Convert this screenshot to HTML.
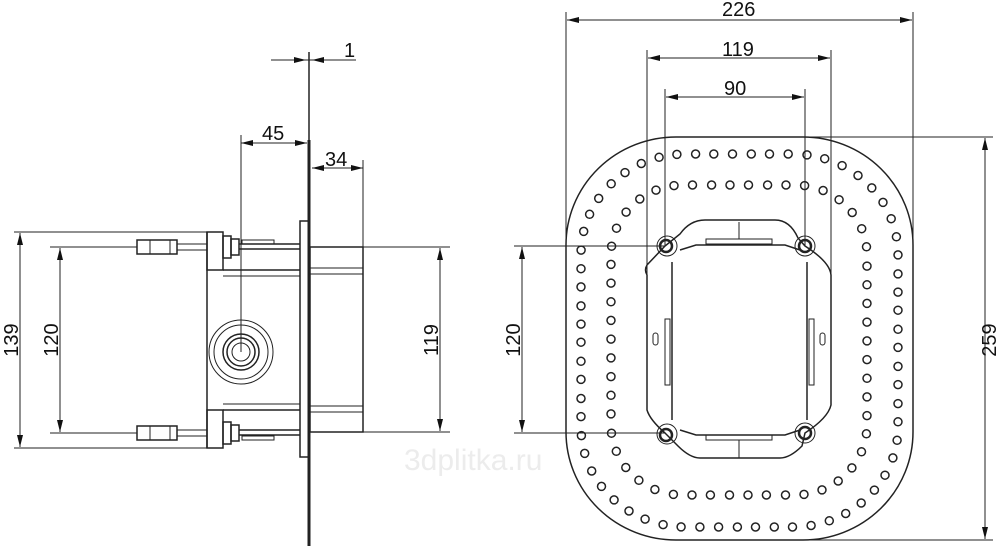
<!DOCTYPE html>
<html><head><meta charset="utf-8"><style>
html,body{margin:0;padding:0;background:#fff;width:1000px;height:546px;overflow:hidden}
svg{display:block}
text{font-family:"Liberation Sans",sans-serif;font-size:20px;fill:#111}
</style></head><body>
<svg id="s" width="1000" height="546" viewBox="0 0 1000 546" xmlns="http://www.w3.org/2000/svg">
<defs>
<marker id="a" viewBox="0 0 12 6" refX="12" refY="3" markerWidth="12" markerHeight="6" markerUnits="userSpaceOnUse" orient="auto-start-reverse"><path d="M0,0 L12,3 L0,6 z" fill="#111"/></marker>
</defs>
<g stroke="#222" stroke-width="1" fill="none">
<line x1="271" y1="60" x2="356" y2="60"/>
<line x1="285" y1="60" x2="306" y2="60" marker-end="url(#a)"/>
<line x1="335" y1="60" x2="312" y2="60" marker-end="url(#a)"/>
<line x1="309" y1="52" x2="309" y2="140" stroke-width="1.5"/>
<line x1="241" y1="135" x2="241" y2="352"/>
<line x1="241" y1="143" x2="307" y2="143" marker-start="url(#a)" marker-end="url(#a)"/>
<line x1="363" y1="160" x2="363" y2="247"/>
<line x1="312" y1="168" x2="363" y2="168" marker-start="url(#a)" marker-end="url(#a)"/>
<line x1="14" y1="232" x2="207" y2="232"/>
<line x1="14" y1="448" x2="207" y2="448"/>
<line x1="20" y1="233" x2="20" y2="447" marker-start="url(#a)" marker-end="url(#a)"/>
<line x1="50" y1="247" x2="137" y2="247"/>
<line x1="50" y1="433" x2="137" y2="433"/>
<line x1="60" y1="248" x2="60" y2="432" marker-start="url(#a)" marker-end="url(#a)"/>
<line x1="363" y1="247" x2="450" y2="247"/>
<line x1="363" y1="432" x2="450" y2="432"/>
<line x1="440" y1="248" x2="440" y2="431" marker-start="url(#a)" marker-end="url(#a)"/>
<line x1="309" y1="140" x2="309" y2="546" stroke-width="3"/>
<line x1="207" y1="232" x2="207" y2="448" stroke-width="1.5"/>
<rect x="207" y="232" width="16" height="38" stroke-width="1.5"/>
<rect x="207" y="410" width="16" height="38" stroke-width="1.5"/>
<rect x="300" y="221" width="9" height="236" stroke-width="1.5"/>
<rect x="310" y="247" width="53" height="185" stroke-width="1.5"/>
<line x1="223" y1="270" x2="300" y2="270" stroke-width="1.5"/>
<line x1="223" y1="276" x2="300" y2="276"/>
<line x1="310" y1="268" x2="363" y2="268"/>
<line x1="310" y1="274" x2="363" y2="274"/>
<line x1="223" y1="410" x2="300" y2="410" stroke-width="1.5"/>
<line x1="223" y1="404" x2="300" y2="404"/>
<line x1="310" y1="406" x2="363" y2="406"/>
<line x1="310" y1="412" x2="363" y2="412"/>
<rect x="137" y="240" width="40" height="14" stroke-width="1.5"/>
<line x1="150" y1="240" x2="150" y2="254"/><line x1="170" y1="240" x2="170" y2="254"/>
<line x1="177" y1="244" x2="207" y2="244"/><line x1="177" y1="250" x2="207" y2="250"/>
<rect x="223" y="236" width="8" height="22" stroke-width="1.5"/>
<rect x="231" y="239" width="8" height="16" stroke-width="1.5"/>
<line x1="239" y1="244" x2="300" y2="244" stroke-width="1.5"/>
<line x1="239" y1="249" x2="300" y2="249" stroke-width="1.5"/>
<rect x="242" y="240" width="32" height="4"/>
<rect x="137" y="426" width="40" height="14" stroke-width="1.5"/>
<line x1="150" y1="426" x2="150" y2="440"/><line x1="170" y1="426" x2="170" y2="440"/>
<line x1="177" y1="430" x2="207" y2="430"/><line x1="177" y1="436" x2="207" y2="436"/>
<rect x="223" y="422" width="8" height="22" stroke-width="1.5"/>
<rect x="231" y="425" width="8" height="16" stroke-width="1.5"/>
<line x1="239" y1="430" x2="300" y2="430" stroke-width="1.5"/>
<line x1="239" y1="435" x2="300" y2="435" stroke-width="1.5"/>
<rect x="242" y="436" width="32" height="4"/>
<circle cx="241" cy="352" r="32"/><circle cx="241" cy="352" r="27"/>
<circle cx="241" cy="352" r="18" stroke-width="1.5"/><circle cx="241" cy="352" r="14" stroke-width="1.5"/>
<circle cx="241" cy="352" r="9"/>
<line x1="566" y1="12" x2="566" y2="240"/>
<line x1="913" y1="12" x2="913" y2="300"/>
<line x1="567" y1="20" x2="912" y2="20" marker-start="url(#a)" marker-end="url(#a)"/>
<line x1="647" y1="50" x2="647" y2="300"/>
<line x1="831" y1="50" x2="831" y2="300"/>
<line x1="648" y1="58" x2="830" y2="58" marker-start="url(#a)" marker-end="url(#a)"/>
<line x1="665" y1="89" x2="665" y2="246"/>
<line x1="805" y1="89" x2="805" y2="246"/>
<line x1="666" y1="97" x2="804" y2="97" marker-start="url(#a)" marker-end="url(#a)"/>
<line x1="800" y1="137" x2="993" y2="137"/>
<line x1="800" y1="540" x2="993" y2="540"/>
<line x1="985" y1="138" x2="985" y2="539" marker-start="url(#a)" marker-end="url(#a)"/>
<line x1="514" y1="246" x2="665" y2="246"/>
<line x1="514" y1="433" x2="665" y2="433"/>
<line x1="522" y1="247" x2="522" y2="432" marker-start="url(#a)" marker-end="url(#a)"/>
<rect x="566" y="137" width="347" height="403" rx="110" ry="108" stroke-width="1.5"/>
<path d="M665,246 L647,265 Q644,270 647,275 L647,410 Q650,420 665,433 L678,446 Q690,458 700,458 L780,458 Q790,458 802,446 L805,433 Q828,418 831,405 L831,275 Q830,262 805,246 L798,238 Q790,220 775,220 L705,220 Q690,220 680,234 Z" stroke-width="1.5"/>
<path d="M672,262 L672,420 M807,262 L807,420" stroke-width="1.5"/>
<path d="M680,250 L696,245 L785,245 L800,250 M680,430 L696,435 L785,435 L800,430" stroke-width="1.5"/>
<rect x="706" y="239" width="66" height="5"/><rect x="706" y="435" width="66" height="5"/>
<line x1="739" y1="222" x2="739" y2="239"/><line x1="739" y1="440" x2="739" y2="458"/>
<rect x="665" y="319" width="5" height="66"/><rect x="809" y="319" width="5" height="66"/>
<rect x="653" y="333" width="5" height="12" rx="2.5"/><rect x="820" y="333" width="5" height="12" rx="2.5"/>
<g stroke-width="2.5">
<circle cx="666" cy="246" r="6"/><circle cx="805" cy="246" r="6"/>
<circle cx="666" cy="435" r="6"/><circle cx="805" cy="433" r="6"/>
</g>
<g>
<circle cx="667" cy="246" r="10"/><circle cx="805" cy="246" r="10"/>
<circle cx="667" cy="434" r="10"/><circle cx="805" cy="433" r="10"/>
</g>
<g id="dots" stroke-width="1.5"></g>
</g>
<text x="262" y="140">45</text>
<text x="325" y="166">34</text>
<text x="344" y="57">1</text>
<text x="722" y="16">226</text>
<text x="722" y="56">119</text>
<text x="724" y="95">90</text>
<text transform="translate(18,340) rotate(-90)" text-anchor="middle">139</text>
<text transform="translate(58,340) rotate(-90)" text-anchor="middle">120</text>
<text transform="translate(438,340) rotate(-90)" text-anchor="middle">119</text>
<text transform="translate(520,340) rotate(-90)" text-anchor="middle">120</text>
<text transform="translate(996,340) rotate(-90)" text-anchor="middle">259</text>
<text x="404" y="470" style="font-size:30px;fill:#ececec">3dplitka.ru</text>
</svg>
<script>
(function(){
var g=document.getElementById('dots');
function ring(x0,y0,x1,y1,rx,ry,sp){
 var pts=[];
 function line(ax,ay,bx,by){for(var i=0;i<200;i++){var t=i/200;pts.push([ax+(bx-ax)*t,ay+(by-ay)*t]);}}
 function arc(cx,cy,a0,a1){for(var i=0;i<200;i++){var a=(a0+(a1-a0)*i/200)*Math.PI/180;pts.push([cx+rx*Math.cos(a),cy+ry*Math.sin(a)]);}}
 line(x0+rx,y0,x1-rx,y0); arc(x1-rx,y0+ry,-90,0);
 line(x1,y0+ry,x1,y1-ry); arc(x1-rx,y1-ry,0,90);
 line(x1-rx,y1,x0+rx,y1); arc(x0+rx,y1-ry,90,180);
 line(x0,y1-ry,x0,y0+ry); arc(x0+rx,y0+ry,180,270);
 pts.push(pts[0]);
 var cum=[0];for(var i=1;i<pts.length;i++)cum.push(cum[i-1]+Math.hypot(pts[i][0]-pts[i-1][0],pts[i][1]-pts[i-1][1]));
 var len=cum[cum.length-1],n=Math.round(len/sp),step=len/n,j=0;
 for(var k=0;k<n;k++){var L=k*step+step/2;while(cum[j]<L)j++;var p=pts[j];
  var c=document.createElementNS('http://www.w3.org/2000/svg','circle');
  c.setAttribute('cx',p[0].toFixed(1));c.setAttribute('cy',p[1].toFixed(1));c.setAttribute('r','4');g.appendChild(c);}
}
ring(581,154,898,527,105,100,18.6);
ring(611,185,867,495,72,70,18.6);
})();
</script>
</body></html>
